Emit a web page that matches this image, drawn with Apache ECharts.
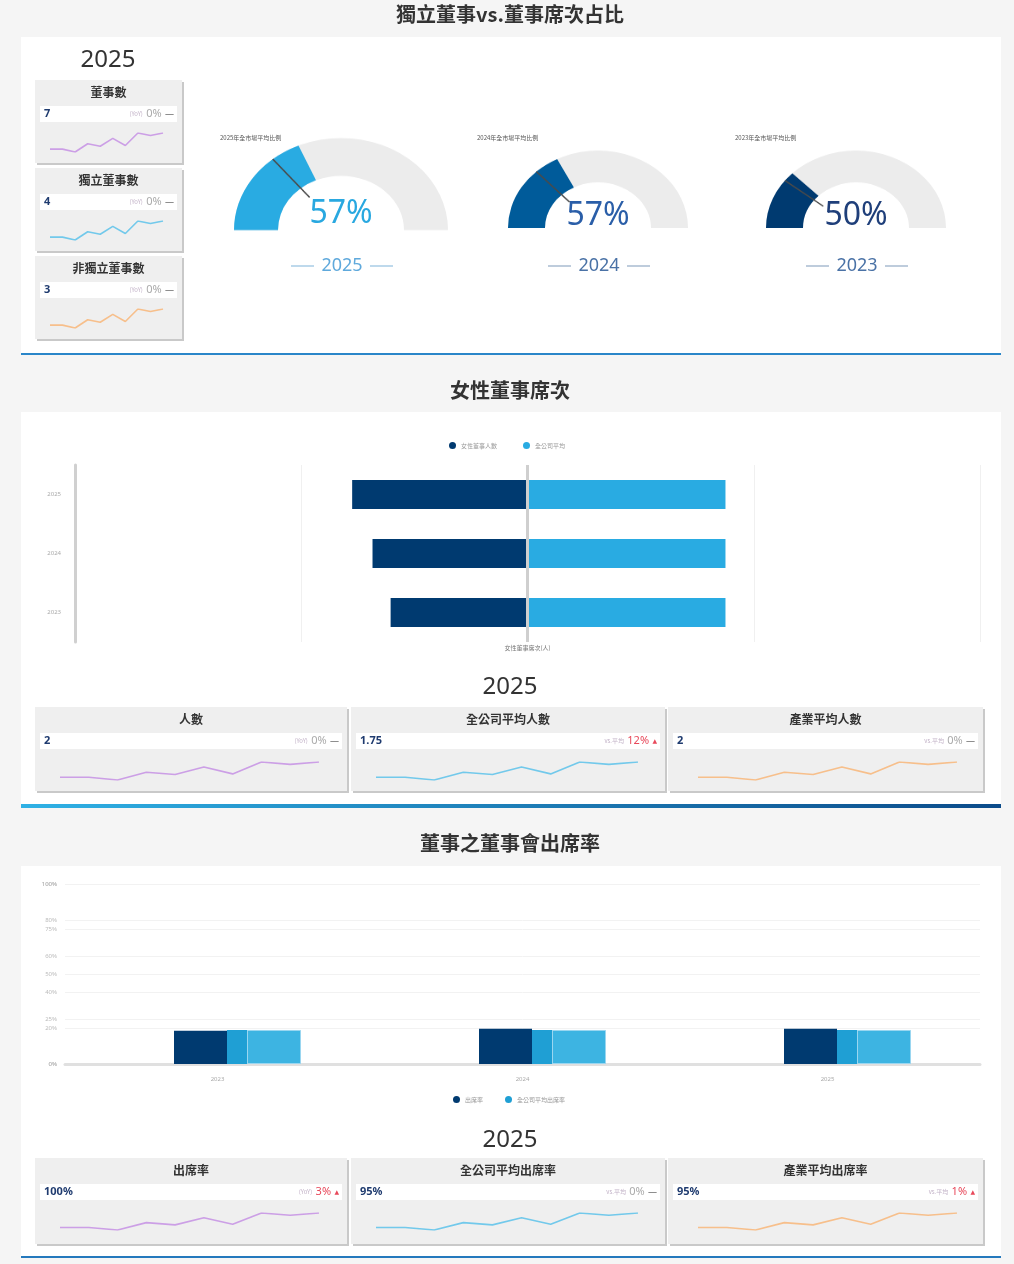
<!DOCTYPE html>
<html><head><meta charset="utf-8">
<script src="https://cdn.jsdelivr.net/npm/echarts@6/dist/echarts.min.js"></script>
<style>html,body{margin:0;padding:0;background:#f5f5f5}body{position:relative}#c{width:1014px;height:1264px}
#g{position:absolute;left:0;top:0;width:1014px;height:320px;transform:scaleY(0.86);transform-origin:0 0;pointer-events:none}</style>
</head><body><div id="c"></div><div id="g"></div>
<script>
// ---------- data ----------
const gaugeYears = ['2025', '2024', '2023'];
const gaugeRatioLabel = [57, 57, 50];        // shown ratio (%)
const gaugeArcFill = [37, 35, 25];           // filled share of the arc
const gaugeMarketAvg = [28, 26, 21];         // market-average marker position
const gaugeMarkerText = ['2025年全市場平均比例', '2024年全市場平均比例', '2023年全市場平均比例'];

const boardCardTitles = ['董事數', '獨立董事數', '非獨立董事數'];
const boardCardValues = ['7', '4', '3'];
const boardCardNotes = ['(YoY)', '(YoY)', '(YoY)'];
const boardCardChanges = ['0%', '0%', '0%'];
const boardCardSigns = ['—', '—', '—'];

const femaleYears = ['2025', '2024', '2023'];
const femaleSeats = [1.55, 1.37, 1.21];
const femaleCompanyAvg = [1.75, 1.75, 1.75];
const femaleCardTitles = ['人數', '全公司平均人數', '產業平均人數'];
const femaleCardValues = ['2', '1.75', '2'];
const femaleCardNotes = ['(YoY)', 'vs.平均', 'vs.平均'];
const femaleCardChanges = ['0%', '12%', '0%'];
const femaleCardSigns = ['—', '▲', '—'];

const attendYears = ['2023', '2024', '2025'];
const attendRate = [18.5, 19.6, 19.6];
const attendCompanyAvg = [18.9, 18.9, 18.9];
const attendIndustryAvg = [18.9, 18.9, 18.9];
const attendCardTitles = ['出席率', '全公司平均出席率', '產業平均出席率'];
const attendCardValues = ['100%', '95%', '95%'];
const attendCardNotes = ['(YoY)', 'vs.平均', 'vs.平均'];
const attendCardChanges = ['3%', '0%', '1%'];
const attendCardSigns = ['▲', '—', '▲'];

const trendPeriods = ['1', '2', '3', '4', '5', '6', '7', '8', '9', '10'];
const trendValues = [8, 8, 0, 23, 16, 38, 18, 53, 46, 53];

// ---------- styling helpers ----------
const FONT_CJK = '"Noto Sans CJK TC", "Noto Sans", sans-serif';
const FONT_NUM = '"Noto Sans", "DejaVu Sans", sans-serif';
const sparkColors = ['#c690e4', '#5cc2ea', '#f8b679'];
const GAUGE_SQUASH = 0.86;

const G = [];
function rect(x, y, w, h, fill) { G.push({ type: 'rect', silent: true, shape: { x, y, width: w, height: h }, style: { fill } }); }
function text(x, y, t, font, fill, align) { G.push({ type: 'text', silent: true, x, y, style: { text: t, font, fill, align: align || 'center', verticalAlign: 'middle' } }); }
function line(x1, y1, x2, y2, stroke, w) { G.push({ type: 'line', silent: true, shape: { x1, y1, x2, y2 }, style: { stroke, lineWidth: w } }); }

const grid = [], xAxis = [], yAxis = [], series = [];

// panels
rect(21, 37, 980, 317, '#fff');
rect(21, 353, 980, 2, '#2a86c9');
rect(21, 412, 980, 393, '#fff');
rect(21, 804, 980, 4, { type: 'linear', x: 0, y: 0, x2: 1, y2: 0, colorStops: [{ offset: 0, color: '#2fb1e5' }, { offset: 1, color: '#0b4b8a' }] });
rect(21, 866, 980, 391, '#fff');
rect(21, 1256, 980, 2, '#2479bd');

// titles
text(510, 14, '獨立董事vs.董事席次占比', `bold 20px ${FONT_CJK}`, '#333');
text(510, 390, '女性董事席次', `bold 20px ${FONT_CJK}`, '#333');
text(510, 843, '董事之董事會出席率', `bold 20px ${FONT_CJK}`, '#333');
text(108, 60, '2025', `24px ${FONT_NUM}`, '#333');
text(510, 687, '2025', `24px ${FONT_NUM}`, '#333');
text(510, 1140, '2025', `24px ${FONT_NUM}`, '#333');

function card(x, y, w, h, title, value, note, change, sign) {
  rect(x + 2, y + 2, w, h, '#c9c9c9');
  rect(x, y, w, h, '#efefef');
  text(x + w / 2, y + 12, title, `bold 12px ${FONT_CJK}`, '#333');
  rect(x + 5, y + 26, w - 10, 16, '#fff');
  text(x + 9, y + 34, value, `bold 11px ${FONT_NUM}`, '#1f3b6f', 'left');
  const up = sign === '▲';
  G.push({ type: 'text', silent: true, x: x + w - 8, y: y + 34, style: {
    text: `{n|${note}} {c|${change}} {s|${sign}}`, align: 'right', verticalAlign: 'middle',
    rich: {
      n: { fontSize: 6, fill: '#c3b3c8', fontFamily: FONT_CJK },
      c: { fontSize: 11, fill: up ? '#e8485a' : '#aaa', fontFamily: FONT_NUM },
      s: { fontSize: up ? 6 : 9, fill: up ? '#e8485a' : '#666', fontFamily: FONT_NUM }
    } } });
}
function spark(left, top, width, height, color) {
  const gi = grid.length;
  grid.push({ left, top, width, height });
  xAxis.push({ type: 'category', gridIndex: gi, data: trendPeriods, show: false, boundaryGap: false });
  yAxis.push({ type: 'value', gridIndex: gi, show: false, min: 'dataMin', max: 'dataMax' });
  series.push({ type: 'line', xAxisIndex: xAxis.length - 1, yAxisIndex: yAxis.length - 1, data: trendValues, symbol: 'none', silent: true, z: 5, lineStyle: { color, width: 1.6, opacity: 0.85 } });
}

// ---------- middle bar chart (grid 0) ----------
grid.push({ left: 75, right: 34, top: 465, bottom: 622 });
xAxis.push({ type: 'value', gridIndex: 0, min: -4, max: 4, interval: 2,
  axisLabel: { show: false }, axisLine: { show: false }, axisTick: { show: false },
  splitLine: { lineStyle: { color: '#f0f0f0' } },
  name: '女性董事席次(人)', nameLocation: 'middle', nameGap: 3, nameTextStyle: { fontSize: 6, color: '#777', fontFamily: FONT_CJK } });
yAxis.push({ type: 'category', gridIndex: 0, data: femaleYears, inverse: true,
  axisLine: { onZero: false, lineStyle: { color: '#d0d0d0', width: 3 } }, axisTick: { show: false },
  axisLabel: { fontSize: 6, color: '#aaa', margin: 14, fontFamily: FONT_NUM } });
series.push({ name: '女性董事人數', type: 'bar', xAxisIndex: 0, yAxisIndex: 0, stack: 'f', barWidth: 29,
  data: femaleSeats.map(v => -v), itemStyle: { color: '#003a70' },
  markLine: { silent: true, symbol: ['none', 'none'], label: { show: false }, lineStyle: { color: '#cfcfcf', width: 3, type: 'solid' }, data: [{ xAxis: 0 }] } });
series.push({ name: '全公司平均', type: 'bar', xAxisIndex: 0, yAxisIndex: 0, stack: 'f', barWidth: 29,
  data: femaleCompanyAvg, itemStyle: { color: '#29abe2' } });

// ---------- bottom bar chart (grid 1) ----------
grid.push({ left: 65, right: 34, top: 884, bottom: 200 });
xAxis.push({ type: 'category', gridIndex: 1, data: attendYears,
  axisLine: { lineStyle: { color: '#e0e0e0', width: 3 } }, axisTick: { show: false },
  axisLabel: { fontSize: 6, color: '#aaa', margin: 12, fontFamily: FONT_NUM } });
yAxis.push({ type: 'value', gridIndex: 1, min: 0, max: 100, interval: 20,
  axisLabel: { fontSize: 6, color: '#bbb', formatter: '{value}%', margin: 8, fontFamily: FONT_NUM },
  axisLine: { show: false }, axisTick: { show: false }, splitLine: { lineStyle: { color: '#f2f2f2' } } });
yAxis.push({ type: 'value', gridIndex: 1, min: 0, max: 100, interval: 25, position: 'left', offset: 0,
  axisLabel: { fontSize: 6, color: '#bbb', formatter: '{value}%', margin: 8, fontFamily: FONT_NUM },
  axisLine: { show: false }, axisTick: { show: false }, splitLine: { lineStyle: { color: '#f2f2f2' } } });
series.push({ name: '_', type: 'bar', xAxisIndex: 1, yAxisIndex: 1, barWidth: 40, barGap: 0, data: [null, null, null] });
series.push({ name: '出席率', type: 'bar', xAxisIndex: 1, yAxisIndex: 1, barWidth: 53, barGap: 0, data: attendRate, itemStyle: { color: '#003a70' } });
series.push({ name: '全公司平均出席率', type: 'bar', xAxisIndex: 1, yAxisIndex: 1, barWidth: 20, barGap: 0, data: attendCompanyAvg, itemStyle: { color: '#1f9fd4' } });
series.push({ name: '產業平均出席率', type: 'bar', xAxisIndex: 1, yAxisIndex: 1, barWidth: 54, barGap: 0, data: attendIndustryAvg, itemStyle: { color: '#3db4e2', borderColor: '#9ad6f0', borderWidth: 1 } });

// ---------- gauges (drawn in a vertically squashed layer) ----------
const gaugeCfg = [
  { cx: 341, cy: 230, r: 107, w: 44, color: '#29abe2', txt: '#29a8e0', yr: '#5fa9dc', dash: '#a9cce6', vy: 214 },
  { cx: 598, cy: 228, r: 90, w: 37, color: '#005b9a', txt: '#2a5ea8', yr: '#4a72a6', dash: '#a9bbd0', vy: 216 },
  { cx: 856, cy: 228, r: 90, w: 37, color: '#003a70', txt: '#1f3f7a', yr: '#4a72a6', dash: '#a9bbd0', vy: 216 }
];
const gaugeSeries = [];
gaugeCfg.forEach((g, i) => {
  const center = [g.cx, g.cy / GAUGE_SQUASH];
  gaugeSeries.push({ type: 'gauge', center, radius: g.r, startAngle: 180, endAngle: 0, min: 0, max: 100,
    progress: { show: true, width: g.w, itemStyle: { color: g.color } },
    axisLine: { lineStyle: { width: g.w, color: [[1, '#ececec']] } },
    pointer: { show: false }, anchor: { show: false }, axisTick: { show: false }, splitLine: { show: false }, axisLabel: { show: false },
    title: { show: false }, detail: { show: false },
    data: [{ value: gaugeArcFill[i], name: gaugeYears[i] }] });
  gaugeSeries.push({ type: 'gauge', center, radius: g.r, startAngle: 180, endAngle: 0, min: 0, max: 100, z: 4,
    axisLine: { show: false }, axisTick: { show: false }, splitLine: { show: false }, axisLabel: { show: false },
    anchor: { show: false }, title: { show: false }, detail: { show: false },
    pointer: { show: true, icon: 'rect', width: 1.5, length: '54%', offsetCenter: [0, '-46%'], itemStyle: { color: '#4a4a4a' } },
    data: [{ value: gaugeMarketAvg[i] }] });
  text(g.cx, g.vy, gaugeRatioLabel[i] + '%', `32px ${FONT_NUM}`, g.txt);
  text(g.cx + 1, 266, gaugeYears[i], `18px ${FONT_NUM}`, g.yr);
  line(g.cx - 50, 266, g.cx - 27, 266, g.dash, 1.5);
  line(g.cx + 29, 266, g.cx + 52, 266, g.dash, 1.5);
  text(g.cx - 121, 138, gaugeMarkerText[i], `6px ${FONT_CJK}`, '#555', 'left');
});

// ---------- cards + sparklines ----------
for (let i = 0; i < 3; i++) {
  const T = 80 + 88 * i;
  card(35, T, 147, 83, boardCardTitles[i], boardCardValues[i], boardCardNotes[i], boardCardChanges[i], boardCardSigns[i]);
  spark(50, T + 53, 113, 19, sparkColors[i]);
}
const cardX = [35, 351, 668], cardW = [312, 314, 315];
const spkL = [60, 376, 698], spkW = [259, 262, 259];
for (let i = 0; i < 3; i++) {
  card(cardX[i], 707, cardW[i], 84, femaleCardTitles[i], femaleCardValues[i], femaleCardNotes[i], femaleCardChanges[i], femaleCardSigns[i]);
  spark(spkL[i], 762, spkW[i], 18, sparkColors[i]);
  card(cardX[i], 1158, cardW[i], 86, attendCardTitles[i], attendCardValues[i], attendCardNotes[i], attendCardChanges[i], attendCardSigns[i]);
  spark(spkL[i], 1213, spkW[i], 17, sparkColors[i]);
}

const chart = echarts.init(document.getElementById('c'));
chart.setOption({
  animation: false,
  backgroundColor: '#f5f5f5',
  graphic: { elements: G },
  legend: [
    { data: ['女性董事人數', '全公司平均'], left: 444, top: 437, icon: 'circle', itemWidth: 7, itemHeight: 7, itemGap: 26,
      textStyle: { fontSize: 6, color: '#999', fontFamily: FONT_CJK } },
    { data: ['出席率', '全公司平均出席率'], left: 448, top: 1091, icon: 'circle', itemWidth: 7, itemHeight: 7, itemGap: 22,
      textStyle: { fontSize: 6, color: '#999', fontFamily: FONT_CJK } }
  ],
  grid, xAxis, yAxis, series
});

const gaugeChart = echarts.init(document.getElementById('g'));
gaugeChart.setOption({ animation: false, backgroundColor: 'transparent', series: gaugeSeries });
</script></body></html>
